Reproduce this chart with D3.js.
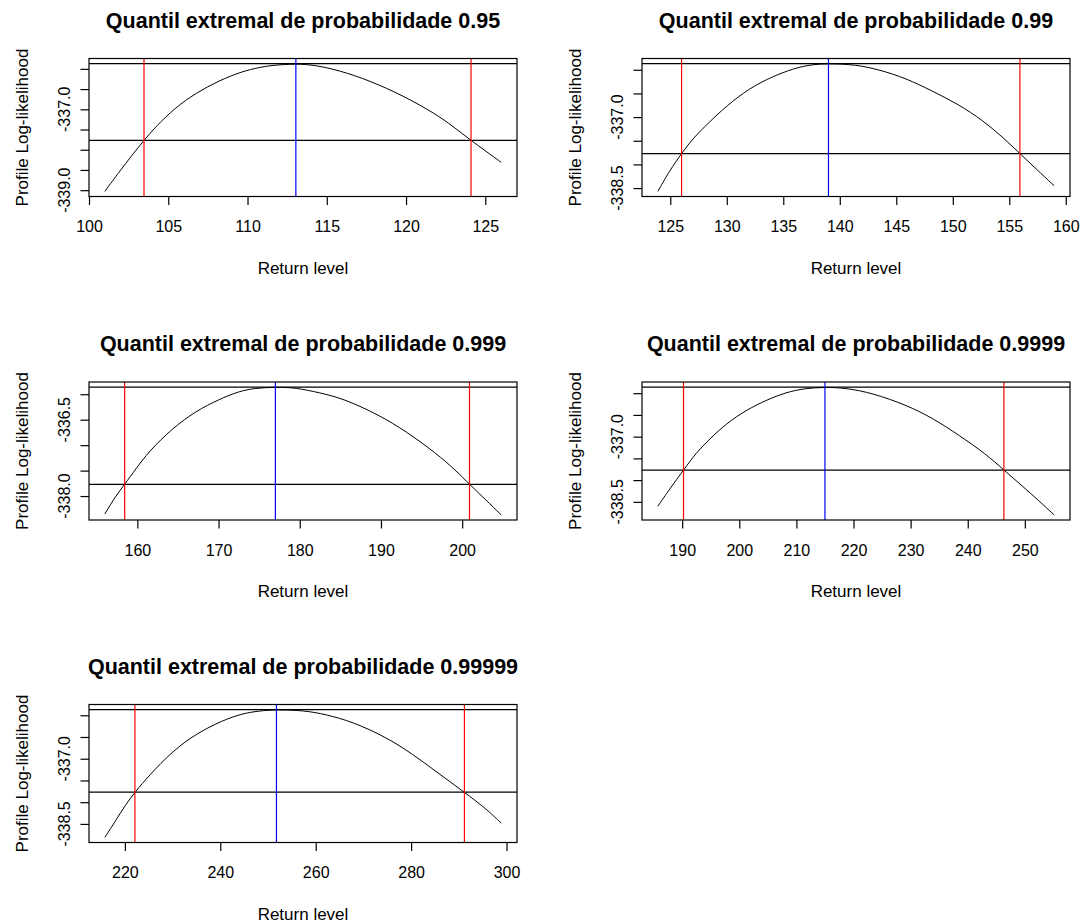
<!DOCTYPE html>
<meta charset="utf-8">
<style>
body { margin: 0; padding: 0; background: #fff; }
svg { display: block; }
text { font-family: "Liberation Sans", Arial, sans-serif; fill: #000; }
</style>
<body>
<script src="https://cdn.jsdelivr.net/npm/d3@7"></script>
<script>

// titles of the five panels
var titles = [
  "Quantil extremal de probabilidade 0.95",
  "Quantil extremal de probabilidade 0.99",
  "Quantil extremal de probabilidade 0.999",
  "Quantil extremal de probabilidade 0.9999",
  "Quantil extremal de probabilidade 0.99999"
];

// profile log-likelihood curves
var rl1 = [101.0, 101.9, 102.74, 103.47, 104.2, 105.47, 106.74, 108.2, 109.68, 110.74, 111.47, 113.05, 114.3, 115.8, 117.7, 119.8, 121.9, 122.95, 124.1, 125.05, 126.0];
var ll1 = [-339.03, -338.55, -338.12, -337.77, -337.43, -336.95, -336.60, -336.29, -336.06, -335.965, -335.915, -335.87, -335.91, -336.04, -336.29, -336.66, -337.12, -337.42, -337.77, -338.04, -338.31];

var rl2 = [123.9, 124.94, 126.0, 127.0, 128.48, 129.95, 132.0, 134.07, 135.84, 137.4, 139.0, 141.44, 143.5, 145.86, 148.2, 150.57, 152.6, 154.4, 155.94, 157.35, 158.97];
var ll2 = [-338.57, -338.13, -337.77, -337.45, -337.10, -336.77, -336.39, -336.14, -335.98, -335.89, -335.87, -335.89, -336.00, -336.18, -336.45, -336.74, -337.06, -337.42, -337.77, -338.09, -338.45];

var rl3 = [156.0, 157.33, 158.44, 159.8, 161.44, 164.32, 167.2, 170.07, 172.54, 174.5, 177.0, 179.5, 182.4, 185.3, 189.8, 193.1, 196.8, 199.25, 200.9, 202.95, 204.8];
var ll3 = [-338.35, -338.00, -337.77, -337.47, -337.12, -336.67, -336.33, -336.10, -335.94, -335.88, -335.86, -335.87, -335.97, -336.08, -336.41, -336.73, -337.16, -337.50, -337.77, -338.08, -338.37];

var rl4 = [185.74, 187.78, 190.23, 192.45, 194.78, 197.7, 201.2, 204.7, 208.2, 211.4, 215.0, 218.7, 223.35, 229.2, 233.85, 238.5, 243.2, 246.33, 249.6, 252.5, 255.13];
var ll4 = [-338.60, -338.21, -337.77, -337.37, -337.06, -336.70, -336.39, -336.16, -335.98, -335.89, -335.86, -335.88, -336.00, -336.27, -336.57, -336.97, -337.40, -337.77, -338.14, -338.48, -338.80];

var rl5 = [215.8, 218.04, 220.14, 222.1, 225.04, 229.94, 234.84, 240.43, 244.63, 248.13, 251.77, 257.6, 262.1, 267.7, 274.7, 280.3, 285.9, 291.17, 295.7, 298.87];
var ll5 = [-338.81, -338.43, -338.06, -337.77, -337.39, -336.83, -336.43, -336.12, -335.96, -335.90, -335.87, -335.89, -335.98, -336.15, -336.50, -336.89, -337.35, -337.77, -338.15, -338.48];

var returnLevels = [rl1, rl2, rl3, rl4, rl5];
var logLiks = [ll1, ll2, ll3, ll4, ll5];

// estimate (blue) and 95% interval bounds (red)
var mle = [113.05, 139.0, 177.0, 215.0, 251.77];
var ciLower = [103.47, 126.0, 158.44, 190.23, 222.1];
var ciUpper = [124.1, 155.94, 200.9, 246.33, 291.17];

// horizontal reference lines: maximum and cut-off
var maxLogLik = [-335.87, -335.87, -335.86, -335.86, -335.87];
var cutLogLik = [-337.77, -337.77, -337.77, -337.77, -337.77];

// axis ticks
var xTicks = [
  [100, 105, 110, 115, 120, 125],
  [125, 130, 135, 140, 145, 150, 155, 160],
  [160, 170, 180, 190, 200],
  [190, 200, 210, 220, 230, 240, 250],
  [220, 240, 260, 280, 300]
];
var yTicks = [
  [-339.0, -338.5, -338.0, -337.5, -337.0, -336.5, -336.0],
  [-338.5, -338.0, -337.5, -337.0, -336.5, -336.0],
  [-338.0, -337.5, -337.0, -336.5, -336.0],
  [-338.5, -338.0, -337.5, -337.0, -336.5, -336.0],
  [-338.5, -338.0, -337.5, -337.0, -336.5, -336.0]
];
var yTickLabels = [
  [-339.0, -337.0],
  [-338.5, -337.0],
  [-338.0, -336.5],
  [-338.5, -337.0],
  [-338.5, -337.0]
];

var width = 1081,
    height = 923,
    boxW = 428,
    boxH = 138,
    colLeft = [89, 642],
    rowTop = [58.5, 382, 704.5];

var svg = d3.select("body").append("svg")
    .attr("width", width)
    .attr("height", height);

// R style range: data extent plus 4% each side
function pad(ext) {
  var d = (ext[1] - ext[0]) * 0.04;
  return [ext[0] - d, ext[1] + d];
}

titles.forEach(function(title, i) {
  var left = colLeft[i % 2],
      top = rowTop[Math.floor(i / 2)];

  var pts = returnLevels[i].map(function(v, j) { return [v, logLiks[i][j]]; });

  var x = d3.scaleLinear()
      .domain(pad(d3.extent(returnLevels[i])))
      .range([left, left + boxW]);
  var y = d3.scaleLinear()
      .domain(pad(d3.extent(logLiks[i].concat([maxLogLik[i]]))))
      .range([top + boxH, top]);

  var g = svg.append("g");

  g.append("path")
      .datum(pts)
      .attr("fill", "none")
      .attr("stroke", "#000")
      .attr("stroke-width", 1)
      .attr("d", d3.line()
        .x(function(d) { return x(d[0]); })
        .y(function(d) { return y(d[1]); })
        .curve(d3.curveBasis));

  // horizontal lines
  [maxLogLik[i], cutLogLik[i]].forEach(function(v) {
    g.append("line")
        .attr("x1", left).attr("x2", left + boxW)
        .attr("y1", y(v)).attr("y2", y(v))
        .attr("stroke", "#000")
        .attr("stroke-width", 1.2);
  });

  // vertical lines
  [[ciLower[i], "#ff0000"], [mle[i], "#0000ff"], [ciUpper[i], "#ff0000"]].forEach(function(d) {
    g.append("line")
        .attr("x1", x(d[0])).attr("x2", x(d[0]))
        .attr("y1", top).attr("y2", top + boxH)
        .attr("stroke", d[1])
        .attr("stroke-width", 1.2);
  });

  // box
  g.append("rect")
      .attr("x", left).attr("y", top)
      .attr("width", boxW).attr("height", boxH)
      .attr("fill", "none")
      .attr("stroke", "#000")
      .attr("stroke-width", 1.2);

  // x axis
  var xa = g.append("g")
      .attr("transform", "translate(0," + (top + boxH) + ")")
      .call(d3.axisBottom(x).tickValues(xTicks[i]).tickSize(8.5).tickPadding(16)
        .tickFormat(d3.format("d")));
  xa.select(".domain").remove();
  xa.selectAll("line").attr("stroke", "#000").attr("stroke-width", 1.2);
  xa.selectAll("text")
      .attr("font-family", "Liberation Sans, Arial, sans-serif")
      .attr("font-size", 16)
      .attr("fill", "#000");

  // y axis, labels parallel to the axis
  var ya = g.append("g")
      .attr("transform", "translate(" + left + ",0)")
      .call(d3.axisLeft(y).tickValues(yTicks[i]).tickSize(8.5).tickFormat(""));
  ya.select(".domain").remove();
  ya.selectAll("line").attr("stroke", "#000").attr("stroke-width", 1.2);

  yTickLabels[i].forEach(function(v) {
    g.append("text")
        .attr("transform", "translate(" + (left - 25) + "," + y(v) + ") rotate(-90)")
        .attr("text-anchor", "middle")
        .attr("dy", "0.35em")
        .attr("font-size", 16)
        .text(v.toFixed(1));
  });

  // titles
  g.append("text")
      .attr("x", left + boxW / 2)
      .attr("y", top - 31)
      .attr("text-anchor", "middle")
      .attr("font-size", 21.5)
      .attr("font-weight", "bold")
      .text(title);

  g.append("text")
      .attr("x", left + boxW / 2)
      .attr("y", top + boxH + 77)
      .attr("text-anchor", "middle")
      .attr("font-size", 17)
      .text("Return level");

  g.append("text")
      .attr("transform", "translate(" + (left - 67) + "," + (top + boxH / 2) + ") rotate(-90)")
      .attr("text-anchor", "middle")
      .attr("dy", "0.35em")
      .attr("font-size", 17)
      .text("Profile Log-likelihood");
});

</script>
</body>
